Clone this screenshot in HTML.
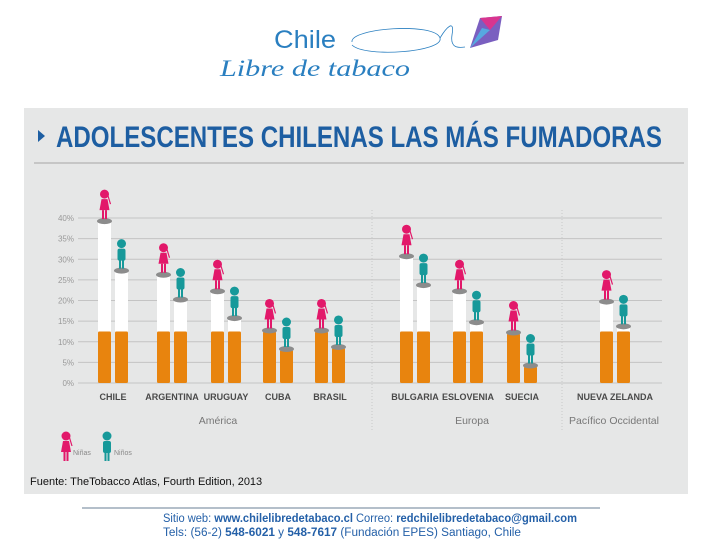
<!DOCTYPE html>
<html><head><meta charset="utf-8"><style>
html,body{margin:0;padding:0;background:#fff;width:720px;height:540px;overflow:hidden}
svg{display:block;font-family:"Liberation Sans",sans-serif}
</style></head><body>
<svg id="c" width="720" height="540" viewBox="0 0 720 540">
<g>
<text x="274" y="48" font-size="25" fill="#2a7fc0" textLength="62" lengthAdjust="spacingAndGlyphs">Chile</text>
<text x="220" y="76" font-size="23" font-style="italic" font-family="Liberation Serif,serif" fill="#2a7fc0" textLength="190" lengthAdjust="spacingAndGlyphs">Libre de tabaco</text>
<path d="M352 42 C350 28 435 22 440 38 C444 52 365 58 352 45 M440 38 C446 28 455 18 452 35 C450 48 458 48 465 47" fill="none" stroke="#2a7fc0" stroke-width="0.8"/>
<polygon points="480,18 502,16 498,40 470,48" fill="#7a5fc0"/>
<polygon points="480,18 502,16 490,30" fill="#d8358f"/>
<polygon points="470,48 482,28 490,30" fill="#56a8e0"/>
</g>
<rect x="24" y="108" width="664" height="386" fill="#e6e7e7"/>
<polygon points="38,130 38,142 45,136" fill="#1d5ea2"/>
<text x="56" y="147" font-size="30" font-weight="bold" fill="#1d5ea2" textLength="606" lengthAdjust="spacingAndGlyphs">ADOLESCENTES CHILENAS LAS MÁS FUMADORAS</text>
<line x1="34" y1="163" x2="684" y2="163" stroke="#bcbcbc" stroke-width="1.5"/>
<g id="grid"></g><g id="bars"></g>
<text x="30" y="485" font-size="11" fill="#111">Fuente: TheTobacco Atlas, Fourth Edition, 2013</text>
<line x1="82" y1="508" x2="600" y2="508" stroke="#6a7f95" stroke-width="1"/>
<text x="370" y="522" font-size="11.5" text-anchor="middle" fill="#2460a8" textLength="414" lengthAdjust="spacingAndGlyphs">Sitio web: <tspan font-weight="bold">www.chilelibredetabaco.cl</tspan>    Correo: <tspan font-weight="bold">redchilelibredetabaco@gmail.com</tspan></text>
<text x="342" y="536" font-size="11.5" text-anchor="middle" fill="#2460a8" textLength="358" lengthAdjust="spacingAndGlyphs">Tels: (56-2) <tspan font-weight="bold">548-6021</tspan> y <tspan font-weight="bold">548-7617</tspan>  (Fundación EPES)  Santiago, Chile</text>
</svg>
<script>
const countries=["CHILE","ARGENTINA","URUGUAY","CUBA","BRASIL","BULGARIA","ESLOVENIA","SUECIA","NUEVA ZELANDA"];
const girls=[39,26,22,12.5,12.5,30.5,22,12,19.5];
const boys=[27,20,15.5,8,8.5,23.5,14.5,4,13.5];
const ticks=[0,5,10,15,20,25,30,35,40];
const regions=["América","Europa","Pacífico Occidental"];
const groupX=[98,157,211,263,315,400,453,507,600];
const NS="http://www.w3.org/2000/svg";
const y=v=>383-v*165/40;
function mk(t,a,p){const e=document.createElementNS(NS,t);for(const k in a)e.setAttribute(k,a[k]);p.appendChild(e);return e;}
const g=document.getElementById('grid'),b=document.getElementById('bars');
ticks.forEach(t=>{
 const l=mk('line',{x1:78,x2:662,y1:y(t),y2:y(t),stroke:'#c4c4c4','stroke-width':1},g);
 
 
 const tx=mk('text',{x:74,y:y(t)+3,'font-size':8,'text-anchor':'end',fill:'#999'},g);
 tx.textContent=t+'%';
 
 
});
[372,562].forEach(x=>{const l=mk('line',{x1:x,x2:x,y1:210,y2:432,stroke:'#c8c8c8','stroke-dasharray':'1,2'},g);
 
 });
[[218,regions[0]],[472,regions[1]],[614,regions[2]]].forEach(r=>{
 const t=mk('text',{x:r[0],y:424,'font-size':10.5,'text-anchor':'middle',fill:'#777'},g);t.textContent=r[1];
 
 });
function figure(x,top,col,girl,p){
 const f=mk('g',{},p);
 mk('circle',{cx:x,cy:top-25,r:4.5,fill:col},f);
 if(girl){mk('polygon',{points:`${x-3},${top-20} ${x+3},${top-20} ${x+5},${top-9} ${x-5},${top-9}`,fill:col},f);
  mk('line',{x1:x+3,y1:top-25,x2:x+6,y2:top-15,stroke:col,'stroke-width':1.2},f);}
 else mk('rect',{x:x-4,y:top-20,width:8,height:12,rx:2,fill:col},f);
 mk('rect',{x:x-2.5,y:top-9,width:2,height:9,fill:col},f);
 mk('rect',{x:x+0.5,y:top-9,width:2,height:9,fill:col},f);
 return f;
}
function bar(x,v,col,girl){
 const w=13,o=Math.min(v,12.5);
 const gb=mk('g',{},b);
 
 
 if(v>12.5)mk('rect',{x:x,y:y(v),width:w,height:y(12.5)-y(v),fill:'#fff'},gb);
 mk('rect',{x:x,y:y(o),width:w,height:y(0)-y(o),fill:'#e8840e',rx:1.5},gb);
 mk('ellipse',{cx:x+w/2,cy:y(v)-1,rx:w/2+1,ry:3,fill:'#8c8c8c'},gb);
 figure(x+w/2,y(v)-3,col,girl,gb);
}
countries.forEach((c,i)=>{
 const x=groupX[i];
 bar(x,girls[i],'#e2186a',true);
 bar(x+17,boys[i],'#17999a',false);
 const t=mk('text',{x:x+15,y:400,'font-size':9,'font-weight':'bold','text-anchor':'middle',fill:'#4a4a4a'},g);
 t.textContent=c;
 
 
});
const lg=mk('g',{},g);


figure(66,461,'#e2186a',true,lg);figure(107,461,'#17999a',false,lg);
const l1=mk('text',{x:73,y:455,'font-size':7,fill:'#888'},lg);l1.textContent='Niñas';


const l2=mk('text',{x:114,y:455,'font-size':7,fill:'#888'},lg);l2.textContent='Niños';


</script>
</body></html>
